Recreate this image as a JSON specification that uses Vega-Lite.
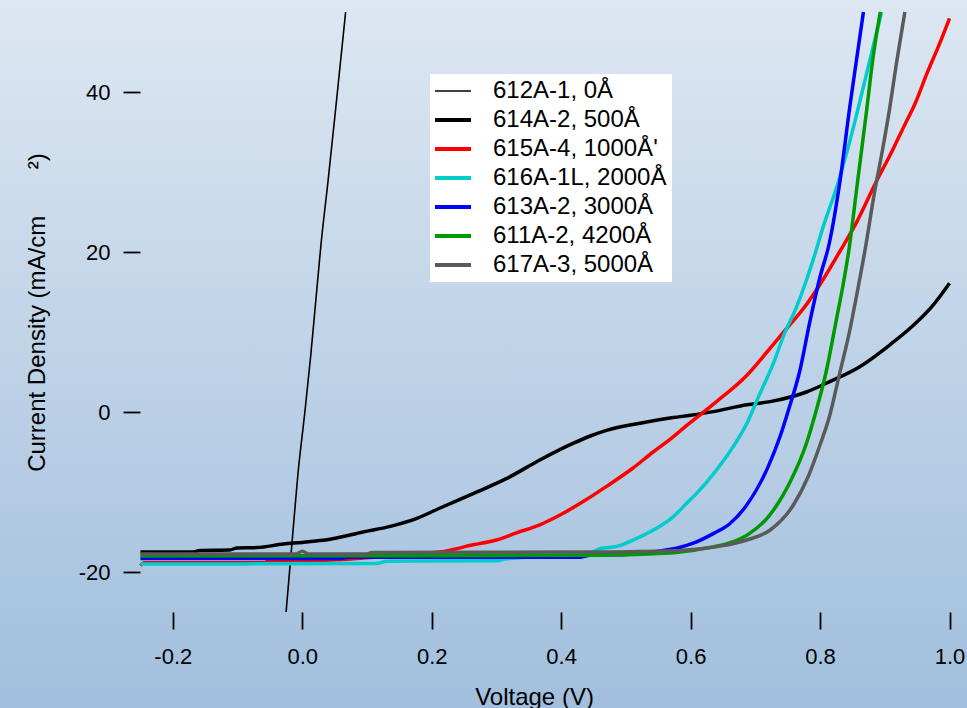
{
  "$schema": "https://vega.github.io/schema/vega-lite/v6.json",
  "width": 967,
  "height": 708,
  "autosize": {"type": "none"},
  "padding": 0,
  "background": "#bfd3e8",
  "config": {
    "font": "Liberation Sans",
    "view": {
      "stroke": null,
      "fill": {
        "gradient": "linear",
        "x1": 0, "y1": 0, "x2": 0, "y2": 1,
        "stops": [
          {"offset": 0, "color": "#dde7f2"},
          {"offset": 1, "color": "#a1bfdd"}
        ]
      }
    },
    "axis": {
      "grid": false,
      "domain": false,
      "ticks": true,
      "tickColor": "black",
      "tickWidth": 1.8,
      "tickSize": 17,
      "labelColor": "black",
      "labelFont": "Liberation Sans",
      "labelFontSize": 22,
      "labelOverlap": false,
      "labelFlush": false,
      "labelBound": false,
      "titleColor": "black",
      "titleFont": "Liberation Sans",
      "titleFontSize": 24,
      "titleFontWeight": "normal"
    },
    "legend": {
      "orient": "none",
      "legendX": 430,
      "legendY": 74,
      "fillColor": "white",
      "strokeColor": null,
      "padding": 5,
      "labelFont": "Liberation Sans",
      "labelFontSize": 24,
      "labelColor": "black",
      "labelOffset": 34,
      "labelLimit": 400,
      "symbolType": "stroke",
      "symbolSize": 2304,
      "clipHeight": 24,
      "rowPadding": 5
    }
  },
  "datasets": {
    "jv": [
      {"sample": "612A-1, 0Å", "V": -0.025, "J": -25},
      {"sample": "612A-1, 0Å", "V": -0.016, "J": -16.5},
      {"sample": "612A-1, 0Å", "V": -0.007, "J": -8},
      {"sample": "612A-1, 0Å", "V": 0.004, "J": 0},
      {"sample": "612A-1, 0Å", "V": 0.013, "J": 7},
      {"sample": "612A-1, 0Å", "V": 0.021, "J": 14},
      {"sample": "612A-1, 0Å", "V": 0.029, "J": 21},
      {"sample": "612A-1, 0Å", "V": 0.040, "J": 29},
      {"sample": "612A-1, 0Å", "V": 0.053, "J": 39},
      {"sample": "612A-1, 0Å", "V": 0.067, "J": 50},

      {"sample": "614A-2, 500Å", "V": -0.25, "J": -17.5},
      {"sample": "614A-2, 500Å", "V": -0.168, "J": -17.5},
      {"sample": "614A-2, 500Å", "V": -0.158, "J": -17.3},
      {"sample": "614A-2, 500Å", "V": -0.112, "J": -17.25},
      {"sample": "614A-2, 500Å", "V": -0.101, "J": -17.0},
      {"sample": "614A-2, 500Å", "V": -0.07, "J": -16.95},
      {"sample": "614A-2, 500Å", "V": -0.029, "J": -16.5},
      {"sample": "614A-2, 500Å", "V": 0.0, "J": -16.3},
      {"sample": "614A-2, 500Å", "V": 0.043, "J": -15.9},
      {"sample": "614A-2, 500Å", "V": 0.094, "J": -15.0},
      {"sample": "614A-2, 500Å", "V": 0.136, "J": -14.3},
      {"sample": "614A-2, 500Å", "V": 0.177, "J": -13.3},
      {"sample": "614A-2, 500Å", "V": 0.213, "J": -12.0},
      {"sample": "614A-2, 500Å", "V": 0.264, "J": -10.2},
      {"sample": "614A-2, 500Å", "V": 0.316, "J": -8.3},
      {"sample": "614A-2, 500Å", "V": 0.367, "J": -6.0},
      {"sample": "614A-2, 500Å", "V": 0.419, "J": -3.9},
      {"sample": "614A-2, 500Å", "V": 0.445, "J": -3.0},
      {"sample": "614A-2, 500Å", "V": 0.47, "J": -2.3},
      {"sample": "614A-2, 500Å", "V": 0.522, "J": -1.4},
      {"sample": "614A-2, 500Å", "V": 0.573, "J": -0.7},
      {"sample": "614A-2, 500Å", "V": 0.60, "J": -0.4},
      {"sample": "614A-2, 500Å", "V": 0.635, "J": 0.05},
      {"sample": "614A-2, 500Å", "V": 0.687, "J": 0.9},
      {"sample": "614A-2, 500Å", "V": 0.723, "J": 1.3},
      {"sample": "614A-2, 500Å", "V": 0.779, "J": 2.5},
      {"sample": "614A-2, 500Å", "V": 0.815, "J": 3.8},
      {"sample": "614A-2, 500Å", "V": 0.862, "J": 5.7},
      {"sample": "614A-2, 500Å", "V": 0.908, "J": 8.4},
      {"sample": "614A-2, 500Å", "V": 0.945, "J": 10.9},
      {"sample": "614A-2, 500Å", "V": 0.975, "J": 13.4},
      {"sample": "614A-2, 500Å", "V": 1.0, "J": 16.1},

      {"sample": "615A-4, 1000Å'", "V": -0.25, "J": -19.2},
      {"sample": "615A-4, 1000Å'", "V": -0.244, "J": -18.85},
      {"sample": "615A-4, 1000Å'", "V": -0.06, "J": -18.85},
      {"sample": "615A-4, 1000Å'", "V": -0.05, "J": -18.6},
      {"sample": "615A-4, 1000Å'", "V": 0.043, "J": -18.5},
      {"sample": "615A-4, 1000Å'", "V": 0.105, "J": -18.2},
      {"sample": "615A-4, 1000Å'", "V": 0.187, "J": -17.7},
      {"sample": "615A-4, 1000Å'", "V": 0.213, "J": -17.5},
      {"sample": "615A-4, 1000Å'", "V": 0.264, "J": -16.6},
      {"sample": "615A-4, 1000Å'", "V": 0.30, "J": -16.0},
      {"sample": "615A-4, 1000Å'", "V": 0.331, "J": -15.1},
      {"sample": "615A-4, 1000Å'", "V": 0.367, "J": -14.1},
      {"sample": "615A-4, 1000Å'", "V": 0.393, "J": -13.1},
      {"sample": "615A-4, 1000Å'", "V": 0.434, "J": -11.2},
      {"sample": "615A-4, 1000Å'", "V": 0.47, "J": -9.3},
      {"sample": "615A-4, 1000Å'", "V": 0.511, "J": -7.0},
      {"sample": "615A-4, 1000Å'", "V": 0.542, "J": -5.0},
      {"sample": "615A-4, 1000Å'", "V": 0.573, "J": -3.1},
      {"sample": "615A-4, 1000Å'", "V": 0.595, "J": -1.6},
      {"sample": "615A-4, 1000Å'", "V": 0.617, "J": -0.2},
      {"sample": "615A-4, 1000Å'", "V": 0.64, "J": 1.3},
      {"sample": "615A-4, 1000Å'", "V": 0.687, "J": 4.6},
      {"sample": "615A-4, 1000Å'", "V": 0.718, "J": 7.5},
      {"sample": "615A-4, 1000Å'", "V": 0.749, "J": 10.5},
      {"sample": "615A-4, 1000Å'", "V": 0.774, "J": 12.9},
      {"sample": "615A-4, 1000Å'", "V": 0.805, "J": 16.6},
      {"sample": "615A-4, 1000Å'", "V": 0.83, "J": 20.0},
      {"sample": "615A-4, 1000Å'", "V": 0.857, "J": 23.8},
      {"sample": "615A-4, 1000Å'", "V": 0.888, "J": 29.0},
      {"sample": "615A-4, 1000Å'", "V": 0.91, "J": 32.4},
      {"sample": "615A-4, 1000Å'", "V": 0.929, "J": 35.6},
      {"sample": "615A-4, 1000Å'", "V": 0.947, "J": 38.6},
      {"sample": "615A-4, 1000Å'", "V": 0.965, "J": 42.3},
      {"sample": "615A-4, 1000Å'", "V": 0.985, "J": 46.1},
      {"sample": "615A-4, 1000Å'", "V": 1.0, "J": 49.2},

      {"sample": "616A-1L, 2000Å", "V": -0.25, "J": -19.0},
      {"sample": "616A-1L, 2000Å", "V": 0.115, "J": -18.95},
      {"sample": "616A-1L, 2000Å", "V": 0.13, "J": -18.65},
      {"sample": "616A-1L, 2000Å", "V": 0.30, "J": -18.6},
      {"sample": "616A-1L, 2000Å", "V": 0.311, "J": -18.4},
      {"sample": "616A-1L, 2000Å", "V": 0.367, "J": -18.1},
      {"sample": "616A-1L, 2000Å", "V": 0.439, "J": -17.8},
      {"sample": "616A-1L, 2000Å", "V": 0.46, "J": -17.1},
      {"sample": "616A-1L, 2000Å", "V": 0.486, "J": -16.8},
      {"sample": "616A-1L, 2000Å", "V": 0.522, "J": -15.6},
      {"sample": "616A-1L, 2000Å", "V": 0.548, "J": -14.5},
      {"sample": "616A-1L, 2000Å", "V": 0.573, "J": -13.1},
      {"sample": "616A-1L, 2000Å", "V": 0.594, "J": -11.4},
      {"sample": "616A-1L, 2000Å", "V": 0.609, "J": -10.2},
      {"sample": "616A-1L, 2000Å", "V": 0.64, "J": -7.25},
      {"sample": "616A-1L, 2000Å", "V": 0.666, "J": -4.3},
      {"sample": "616A-1L, 2000Å", "V": 0.687, "J": -1.4},
      {"sample": "616A-1L, 2000Å", "V": 0.707, "J": 2.3},
      {"sample": "616A-1L, 2000Å", "V": 0.728, "J": 6.1},
      {"sample": "616A-1L, 2000Å", "V": 0.743, "J": 9.4},
      {"sample": "616A-1L, 2000Å", "V": 0.764, "J": 13.2},
      {"sample": "616A-1L, 2000Å", "V": 0.779, "J": 16.5},
      {"sample": "616A-1L, 2000Å", "V": 0.79, "J": 19.2},
      {"sample": "616A-1L, 2000Å", "V": 0.805, "J": 23.2},
      {"sample": "616A-1L, 2000Å", "V": 0.826, "J": 28.2},
      {"sample": "616A-1L, 2000Å", "V": 0.849, "J": 34.8},
      {"sample": "616A-1L, 2000Å", "V": 0.862, "J": 39.0},
      {"sample": "616A-1L, 2000Å", "V": 0.877, "J": 44.0},
      {"sample": "616A-1L, 2000Å", "V": 0.895, "J": 50.0},

      {"sample": "613A-2, 3000Å", "V": -0.25, "J": -18.3},
      {"sample": "613A-2, 3000Å", "V": 0.06, "J": -18.3},
      {"sample": "613A-2, 3000Å", "V": 0.07, "J": -18.15},
      {"sample": "613A-2, 3000Å", "V": 0.43, "J": -18.15},
      {"sample": "613A-2, 3000Å", "V": 0.445, "J": -17.9},
      {"sample": "613A-2, 3000Å", "V": 0.50, "J": -17.8},
      {"sample": "613A-2, 3000Å", "V": 0.542, "J": -17.5},
      {"sample": "613A-2, 3000Å", "V": 0.584, "J": -16.9},
      {"sample": "613A-2, 3000Å", "V": 0.604, "J": -16.4},
      {"sample": "613A-2, 3000Å", "V": 0.635, "J": -15.2},
      {"sample": "613A-2, 3000Å", "V": 0.66, "J": -14.0},
      {"sample": "613A-2, 3000Å", "V": 0.687, "J": -11.6},
      {"sample": "613A-2, 3000Å", "V": 0.72, "J": -6.8},
      {"sample": "613A-2, 3000Å", "V": 0.738, "J": -3.1},
      {"sample": "613A-2, 3000Å", "V": 0.751, "J": 0.2},
      {"sample": "613A-2, 3000Å", "V": 0.769, "J": 5.25},
      {"sample": "613A-2, 3000Å", "V": 0.784, "J": 11.2},
      {"sample": "613A-2, 3000Å", "V": 0.80, "J": 16.9},
      {"sample": "613A-2, 3000Å", "V": 0.814, "J": 21.0},
      {"sample": "613A-2, 3000Å", "V": 0.831, "J": 29.0},
      {"sample": "613A-2, 3000Å", "V": 0.846, "J": 38.2},
      {"sample": "613A-2, 3000Å", "V": 0.857, "J": 44.4},
      {"sample": "613A-2, 3000Å", "V": 0.867, "J": 50.0},

      {"sample": "611A-2, 4200Å", "V": -0.25, "J": -18.0},
      {"sample": "611A-2, 4200Å", "V": 0.45, "J": -17.9},
      {"sample": "611A-2, 4200Å", "V": 0.55, "J": -17.7},
      {"sample": "611A-2, 4200Å", "V": 0.584, "J": -17.5},
      {"sample": "611A-2, 4200Å", "V": 0.625, "J": -17.0},
      {"sample": "611A-2, 4200Å", "V": 0.655, "J": -16.5},
      {"sample": "611A-2, 4200Å", "V": 0.687, "J": -15.4},
      {"sample": "611A-2, 4200Å", "V": 0.72, "J": -13.1},
      {"sample": "611A-2, 4200Å", "V": 0.754, "J": -8.7},
      {"sample": "611A-2, 4200Å", "V": 0.779, "J": -3.9},
      {"sample": "611A-2, 4200Å", "V": 0.792, "J": -0.4},
      {"sample": "611A-2, 4200Å", "V": 0.81, "J": 5.25},
      {"sample": "611A-2, 4200Å", "V": 0.826, "J": 11.9},
      {"sample": "611A-2, 4200Å", "V": 0.836, "J": 16.1},
      {"sample": "611A-2, 4200Å", "V": 0.845, "J": 20.5},
      {"sample": "611A-2, 4200Å", "V": 0.857, "J": 28.2},
      {"sample": "611A-2, 4200Å", "V": 0.872, "J": 37.75},
      {"sample": "611A-2, 4200Å", "V": 0.882, "J": 44.4},
      {"sample": "611A-2, 4200Å", "V": 0.893, "J": 50.0},

      {"sample": "617A-3, 5000Å", "V": -0.25, "J": -17.75},
      {"sample": "617A-3, 5000Å", "V": -0.01, "J": -17.75},
      {"sample": "617A-3, 5000Å", "V": 0.0, "J": -17.4},
      {"sample": "617A-3, 5000Å", "V": 0.01, "J": -17.75},
      {"sample": "617A-3, 5000Å", "V": 0.10, "J": -17.75},
      {"sample": "617A-3, 5000Å", "V": 0.108, "J": -17.55},
      {"sample": "617A-3, 5000Å", "V": 0.45, "J": -17.5},
      {"sample": "617A-3, 5000Å", "V": 0.584, "J": -17.3},
      {"sample": "617A-3, 5000Å", "V": 0.643, "J": -16.8},
      {"sample": "617A-3, 5000Å", "V": 0.687, "J": -16.0},
      {"sample": "617A-3, 5000Å", "V": 0.723, "J": -14.75},
      {"sample": "617A-3, 5000Å", "V": 0.759, "J": -11.6},
      {"sample": "617A-3, 5000Å", "V": 0.782, "J": -8.0},
      {"sample": "617A-3, 5000Å", "V": 0.80, "J": -4.1},
      {"sample": "617A-3, 5000Å", "V": 0.815, "J": -0.4},
      {"sample": "617A-3, 5000Å", "V": 0.829, "J": 4.4},
      {"sample": "617A-3, 5000Å", "V": 0.846, "J": 10.25},
      {"sample": "617A-3, 5000Å", "V": 0.857, "J": 14.8},
      {"sample": "617A-3, 5000Å", "V": 0.87, "J": 20.5},
      {"sample": "617A-3, 5000Å", "V": 0.884, "J": 27.4},
      {"sample": "617A-3, 5000Å", "V": 0.897, "J": 33.0},
      {"sample": "617A-3, 5000Å", "V": 0.908, "J": 38.2},
      {"sample": "617A-3, 5000Å", "V": 0.918, "J": 43.6},
      {"sample": "617A-3, 5000Å", "V": 0.931, "J": 50.0}
    ]
  },
  "layer": [
    {
      "description": "Left frame line at the start of the voltage range",
      "mark": {"type": "rule", "color": "black", "strokeWidth": 2},
      "encoding": {
        "x": {
          "datum": -0.25,
          "type": "quantitative",
          "scale": {"domain": [-0.467, 1.027], "nice": false, "zero": false},
          "axis": {
            "values": [-0.2, 0, 0.2, 0.4, 0.6, 0.8, 1.0],
            "labelExpr": "datum.value < 0 ? '-' + format(-datum.value, '.1f') : format(datum.value, '.1f')",
            "offset": -96,
            "labelPadding": 17,
            "title": "Voltage (V)",
            "titleX": 534,
            "titleY": 92,
            "titleAnchor": null,
            "titleAlign": "center",
            "titleBaseline": "alphabetic"
          }
        },
        "y": {
          "datum": -25,
          "type": "quantitative",
          "scale": {"domain": [-37, 51.5], "nice": false, "zero": false},
          "axis": {
            "values": [-20, 0, 20, 40],
            "labelExpr": "datum.value < 0 ? '-' + format(-datum.value, 'd') : format(datum.value, 'd')",
            "offset": -140,
            "labelPadding": 13,
            "title": "Current Density (mA/cm\u00a0\u00a0\u00a0\u00a0\u00a0\u00a0\u00a0\u00b2)",
            "titleX": -103,
            "titleY": 312,
            "titleAngle": -90,
            "titleAlign": "center",
            "titleBaseline": "middle"
          }
        },
        "y2": {"datum": 50}
      }
    },
    {
      "description": "Bottom frame line",
      "mark": {"type": "rule", "color": "black", "strokeWidth": 2},
      "encoding": {
        "x": {"datum": -0.25, "type": "quantitative"},
        "x2": {"datum": 1.0},
        "y": {"datum": -25, "type": "quantitative"}
      }
    },
    {
      "description": "Zero-current line",
      "mark": {"type": "rule", "color": "black", "strokeWidth": 1.8},
      "encoding": {
        "x": {"datum": -0.25, "type": "quantitative"},
        "x2": {"datum": 1.0},
        "y": {"datum": 0, "type": "quantitative"}
      }
    },
    {
      "description": "Zero-voltage line",
      "mark": {"type": "rule", "color": "black", "strokeWidth": 1.8},
      "encoding": {
        "x": {"datum": 0, "type": "quantitative"},
        "y": {"datum": -25, "type": "quantitative"},
        "y2": {"datum": 50}
      }
    },
    {
      "data": {"name": "jv"},
      "mark": {"type": "line", "interpolate": "monotone", "strokeJoin": "round", "strokeCap": "butt"},
      "encoding": {
        "x": {"field": "V", "type": "quantitative"},
        "y": {"field": "J", "type": "quantitative"},
        "color": {
          "field": "sample",
          "type": "nominal",
          "scale": {
            "domain": ["612A-1, 0Å", "614A-2, 500Å", "615A-4, 1000Å'", "616A-1L, 2000Å", "613A-2, 3000Å", "611A-2, 4200Å", "617A-3, 5000Å"],
            "range": ["#000000", "#000000", "#ff0000", "#00cccc", "#0000ff", "#009900", "#5a5a5a"]
          },
          "legend": {
            "title": null,
            "encode": {
              "symbols": {
                "update": {
                  "strokeWidth": {"signal": "datum.value === '612A-1, 0Å' ? 1.5 : 4"}
                }
              }
            }
          }
        },
        "strokeWidth": {
          "condition": {"test": "datum.sample === '612A-1, 0Å'", "value": 1.6},
          "value": 3.5
        }
      }
    }
  ]
}
